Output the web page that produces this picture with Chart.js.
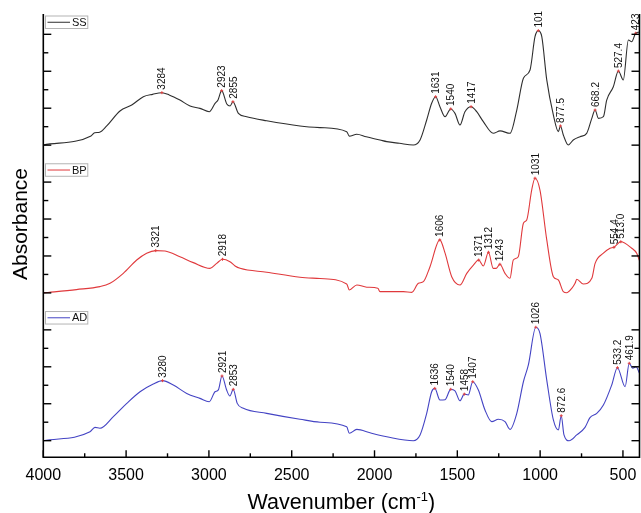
<!DOCTYPE html>
<html>
<head>
<meta charset="utf-8">
<title>FTIR spectra SS / BP / AD</title>
<script src="https://cdn.jsdelivr.net/npm/chart.js@4.4.1/dist/chart.umd.min.js"></script>
<style>
  html, body { margin: 0; padding: 0; background: #fff; }
  canvas { display: block; }
</style>
</head>
<body>
<canvas id="ftir" width="641" height="513"></canvas>
<script>
"use strict";

const FONT = '"Liberation Sans", Arial, sans-serif';

// ---------- Spectra (wavenumber in cm-1, absorbance in arbitrary offset units) ----------
const SS_WN = [4000, 3712, 3690, 3660, 3617, 3537, 3466, 3396, 3340, 3284, 3240, 3175, 3114, 3054, 2998, 2963, 2945, 2923, 2892, 2872, 2855, 2822, 2772, 2651, 2450, 2329, 2168, 2152, 2107, 2050, 1967, 1926, 1850, 1766, 1725, 1685, 1655, 1631, 1605, 1574, 1540, 1514, 1484, 1454, 1417, 1383, 1343, 1283, 1242, 1182, 1141, 1101, 1061, 1031, 1011, 990, 960, 920, 890, 877.5, 860, 830, 800, 759, 719, 688, 668.2, 648, 618, 598, 558, 527.4, 498, 467, 447, 423, 400];
const SS_ABS = [1.01, 1.50, 1.67, 1.70, 2.04, 2.85, 3.17, 3.62, 3.75, 3.84, 3.72, 3.44, 3.12, 2.99, 2.81, 3.26, 3.45, 3.95, 3.23, 3.12, 3.35, 2.72, 2.54, 2.32, 2.04, 1.95, 1.73, 1.49, 1.59, 1.45, 1.28, 1.19, 1.10, 1.01, 1.28, 2.36, 3.27, 3.62, 3.08, 2.54, 2.96, 2.72, 2.09, 2.81, 3.08, 2.81, 2.27, 1.64, 1.77, 1.64, 2.90, 4.62, 5.07, 6.87, 7.20, 6.87, 4.53, 2.63, 1.73, 2.04, 1.55, 1.01, 1.28, 1.46, 1.64, 2.45, 2.90, 2.45, 2.54, 3.44, 4.16, 5.01, 4.53, 6.69, 6.60, 7.06, 7.12];

const BP_WN = [4000, 3800, 3658, 3597, 3517, 3436, 3376, 3321, 3265, 3175, 3094, 2993, 2953, 2918, 2873, 2842, 2812, 2651, 2450, 2329, 2168, 2152, 2107, 2047, 1980, 1967, 1826, 1775, 1735, 1705, 1665, 1606, 1574, 1534, 1484, 1443, 1403, 1371, 1343, 1312, 1283, 1265, 1243, 1212, 1182, 1162, 1132, 1101, 1081, 1051, 1031, 1001, 960, 920, 890, 860, 840, 809, 789, 779, 739, 688, 668, 618, 578, 554.4, 513.0, 447, 417, 400];
const BP_ABS = [1.00, 1.18, 1.34, 1.52, 2.06, 2.78, 3.15, 3.29, 3.27, 2.96, 2.64, 2.33, 2.60, 2.82, 2.69, 2.46, 2.33, 2.12, 1.85, 1.78, 1.48, 1.16, 1.43, 1.31, 1.25, 1.07, 1.07, 1.03, 1.52, 1.61, 2.42, 3.87, 3.15, 1.88, 1.43, 2.06, 2.51, 2.78, 2.46, 3.20, 2.33, 2.33, 2.55, 2.06, 1.79, 2.78, 2.96, 4.77, 4.95, 6.57, 7.21, 6.57, 3.87, 1.88, 1.70, 1.07, 1.01, 1.25, 1.52, 1.74, 1.48, 1.79, 2.60, 3.15, 3.42, 3.47, 3.77, 3.42, 3.15, 2.75];

const AD_WN = [4000, 3718, 3688, 3658, 3577, 3496, 3416, 3336, 3280, 3215, 3134, 3054, 2998, 2963, 2943, 2921, 2893, 2873, 2853, 2829, 2792, 2651, 2450, 2329, 2168, 2152, 2107, 2027, 1977, 1926, 1766, 1725, 1685, 1655, 1636, 1605, 1574, 1540, 1514, 1484, 1458, 1434, 1407, 1373, 1333, 1292, 1252, 1212, 1182, 1141, 1101, 1071, 1026, 1001, 960, 920, 890, 872.6, 856, 825, 779, 729, 699, 658, 618, 568, 533.2, 487, 461.9, 441, 421, 400];
const AD_ABS = [1.00, 1.48, 1.72, 1.67, 2.30, 3.02, 3.65, 4.07, 4.25, 4.01, 3.56, 3.29, 3.11, 3.65, 3.75, 4.50, 3.74, 3.42, 3.78, 3.02, 2.75, 2.48, 2.16, 2.00, 1.75, 1.40, 1.61, 1.43, 1.31, 1.21, 1.00, 1.31, 2.48, 3.65, 3.83, 3.20, 3.22, 3.78, 3.70, 3.16, 3.52, 3.47, 4.19, 3.74, 2.66, 2.03, 2.16, 2.03, 1.61, 2.48, 4.19, 5.10, 7.14, 6.81, 4.28, 2.12, 1.58, 2.35, 1.31, 1.00, 1.31, 1.72, 2.25, 2.48, 2.93, 4.01, 4.95, 3.92, 5.19, 4.92, 5.00, 4.65];

// ---------- Peak annotations ----------
const SS_PEAKS = [3284, 2923, 2855, 1631, 1540, 1417, 1011, 877.5, 668.2, 527.4, 423];
const SS_PEAK_TEXT = ["3284", "2923", "2855", "1631", "1540", "1417", "101", "877.5", "668.2", "527.4", "423"];
const BP_PEAKS = [3321, 2918, 1606, 1371, 1312, 1243, 1031, 554.4, 513.0];
const BP_PEAK_TEXT = ["3321", "2918", "1606", "1371", "1312", "1243", "1031", "554.4", "513.0"];
const AD_PEAKS = [3280, 2921, 2853, 1636, 1540, 1458, 1407, 1026, 872.6, 533.2, 461.9];
const AD_PEAK_TEXT = ["3280", "2921", "2853", "1636", "1540", "1458", "1407", "1026", "872.6", "533.2", "461.9"];

// ---------- Axes ----------
const X_TICKS = [4000, 3500, 3000, 2500, 2000, 1500, 1000, 500];
const X_MINOR = [3750, 3250, 2750, 2250, 1750, 1250, 750];
const Y_TICKS = [1, 2, 3, 4, 5, 6, 7];

const PANELS = [
  { id: "ySS", name: "SS", color: "#2e2e2e", wn: SS_WN, abs: SS_ABS, peaks: SS_PEAKS, text: SS_PEAK_TEXT, weight: 3 },
  { id: "yBP", name: "BP", color: "#e0393c", wn: BP_WN, abs: BP_ABS, peaks: BP_PEAKS, text: BP_PEAK_TEXT, weight: 2 },
  { id: "yAD", name: "AD", color: "#4444c4", wn: AD_WN, abs: AD_ABS, peaks: AD_PEAKS, text: AD_PEAK_TEXT, weight: 1 }
];

function toPoints(xs, ys) {
  return xs.map((x, i) => ({ x, y: ys[i] }));
}

// linear lookup of a spectrum at a given wavenumber (for placing peak labels)
function valueAt(xs, ys, w) {
  for (let i = 0; i < xs.length - 1; i++) {
    const a = xs[i], b = xs[i + 1];
    if ((w <= a && w >= b) || (w >= a && w <= b)) {
      const t = a === b ? 0 : (w - a) / (b - a);
      return ys[i] + t * (ys[i + 1] - ys[i]);
    }
  }
  return ys[ys.length - 1];
}

function panelAxis(weight) {
  return {
    type: "linear",
    position: "left",
    stack: "spectra",
    stackWeight: 1,
    weight,
    min: 0.1,
    max: 8.1,
    ticks: { display: false },
    grid: { display: false, drawTicks: false },
    border: { display: false }
  };
}

function seg(ctx, x1, y1, x2, y2) {
  ctx.beginPath();
  ctx.moveTo(x1, y1);
  ctx.lineTo(x2, y2);
  ctx.stroke();
}

// frame, inward ticks, panel legends, peak labels and axis titles
const decorPlugin = {
  id: "decor",
  afterDatasetsDraw(chart) {
    const { ctx, chartArea: a, scales } = chart;
    const xs = scales.x;
    ctx.save();

    // peak labels
    ctx.font = "10px " + FONT;
    ctx.fillStyle = "#111";
    for (const p of PANELS) {
      const s = scales[p.id];
      p.peaks.forEach((w, i) => {
        const x = xs.getPixelForValue(w);
        const y = s.getPixelForValue(valueAt(p.wn, p.abs, w));
        ctx.strokeStyle = "#e04040";
        ctx.lineWidth = 1;
        seg(ctx, x - 1.5, y, x + 1.5, y);
        seg(ctx, x, y - 1.5, x, y + 1.5);
        ctx.save();
        ctx.translate(x, y - 3);
        ctx.rotate(-Math.PI / 2);
        ctx.textAlign = "left";
        ctx.textBaseline = "alphabetic";
        ctx.fillText(p.text[i], 0, 3.6);
        ctx.restore();
      });
    }

    // axis lines
    ctx.strokeStyle = "#000";
    ctx.lineWidth = 1.6;
    ctx.beginPath();
    ctx.moveTo(a.left, a.top);
    ctx.lineTo(a.left, a.bottom);
    ctx.lineTo(a.right, a.bottom);
    ctx.lineTo(a.right, a.top);
    ctx.stroke();

    // y ticks, pointing inward on both sides
    ctx.lineWidth = 1.4;
    for (const p of PANELS) {
      const s = scales[p.id];
      for (const v of Y_TICKS) {
        const y = s.getPixelForValue(v);
        const len = v % 2 ? 8 : 5;
        seg(ctx, a.left, y, a.left + len, y);
        seg(ctx, a.right, y, a.right - len, y);
      }
    }

    // x ticks, pointing up
    for (const w of X_TICKS) {
      const x = xs.getPixelForValue(w);
      seg(ctx, x, a.bottom, x, a.bottom - 7);
    }
    for (const w of X_MINOR) {
      const x = xs.getPixelForValue(w);
      seg(ctx, x, a.bottom, x, a.bottom - 4);
    }

    // legend box in the top-left corner of each panel
    ctx.font = "11px " + FONT;
    for (const p of PANELS) {
      const s = scales[p.id];
      const bx = a.left + 1.7, by = s.top + 1.5, bw = 43.3, bh = 13.5;
      ctx.fillStyle = "#fff";
      ctx.fillRect(bx, by, bw, bh);
      ctx.strokeStyle = "#b4b4b4";
      ctx.lineWidth = 1;
      ctx.strokeRect(bx + 0.5, by + 0.5, bw - 1, bh - 1);
      ctx.strokeStyle = p.color;
      seg(ctx, bx + 2.5, by + bh / 2, bx + 25, by + bh / 2);
      ctx.fillStyle = "#111";
      ctx.textAlign = "left";
      ctx.textBaseline = "middle";
      ctx.fillText(p.name, bx + 27, by + bh / 2 + 0.5);
    }

    // axis titles
    ctx.fillStyle = "#000";
    ctx.textBaseline = "alphabetic";
    const main = "Wavenumber (cm";
    const sup = "-1";
    const tail = ")";
    ctx.font = "21.5px " + FONT;
    const wMain = ctx.measureText(main).width;
    const wTail = ctx.measureText(tail).width;
    ctx.font = "13px " + FONT;
    const wSup = ctx.measureText(sup).width;
    let tx = (a.left + a.right) / 2 - (wMain + wSup + wTail) / 2;
    const ty = 509;
    ctx.textAlign = "left";
    ctx.font = "21.5px " + FONT;
    ctx.fillText(main, tx, ty);
    tx += wMain;
    ctx.font = "13px " + FONT;
    ctx.fillText(sup, tx, ty - 8.5);
    tx += wSup;
    ctx.font = "21.5px " + FONT;
    ctx.fillText(tail, tx, ty);

    ctx.save();
    ctx.translate(26.7, 224);
    ctx.rotate(-Math.PI / 2);
    ctx.textAlign = "center";
    ctx.font = "21px " + FONT;
    ctx.fillText("Absorbance", 0, 0);
    ctx.restore();

    ctx.restore();
  }
};

const scales = {
  x: {
    type: "linear",
    reverse: true,
    min: 400,
    max: 4000,
    afterBuildTicks: (axis) => {
      axis.ticks = X_TICKS.map(v => ({ value: v }));
    },
    // the plot runs to the right edge; label overhang is handled by the outer padding
    afterFit: (axis) => {
      axis.paddingLeft = 0;
      axis.paddingRight = 0;
    },
    ticks: {
      color: "#000",
      font: { family: FONT, size: 16 },
      padding: 9,
      maxRotation: 0,
      autoSkip: false,
      callback: (v) => String(v)
    },
    grid: { display: false, drawTicks: false },
    border: { display: false }
  }
};
for (const p of PANELS) scales[p.id] = panelAxis(p.weight);

const chart = new Chart(document.getElementById("ftir"), {
  type: "line",
  data: {
    datasets: PANELS.map(p => ({
      label: p.name,
      data: toPoints(p.wn, p.abs),
      yAxisID: p.id,
      borderColor: p.color,
      borderWidth: 1.1,
      pointRadius: 0,
      fill: false,
      cubicInterpolationMode: "monotone"
    }))
  },
  options: {
    responsive: false,
    animation: false,
    devicePixelRatio: 1,
    layout: { autoPadding: false, padding: { left: 43.3, top: 14, right: 1.5, bottom: 18.5 } },
    plugins: {
      legend: { display: false },
      tooltip: { enabled: false }
    },
    scales
  },
  plugins: [decorPlugin]
});
</script>
</body>
</html>
